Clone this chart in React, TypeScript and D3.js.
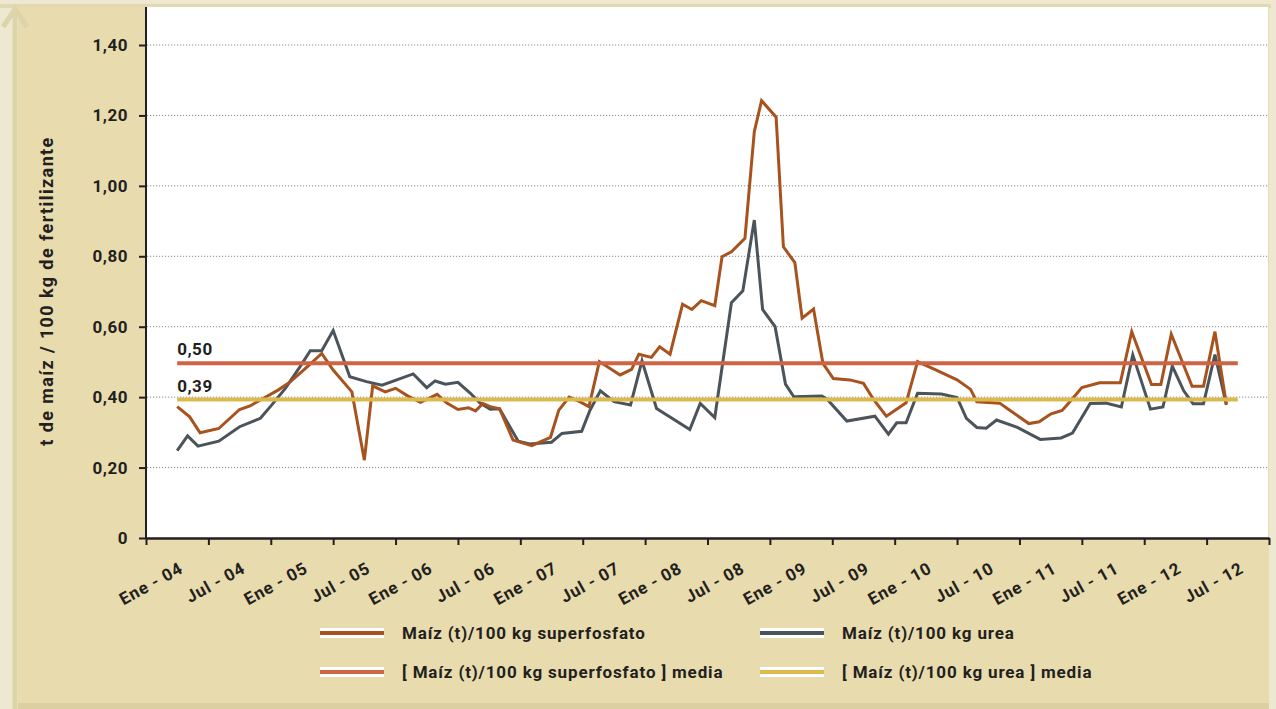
import React, { useEffect, useRef } from "react";
import * as d3 from "d3";

// meses desde Ene-04 y valores (t de maíz / 100 kg de fertilizante)
const mesesSuper = [3.0, 4.2, 5.2, 7.0, 9.0, 10.0, 11.3, 12.7, 13.9, 15.5, 16.9, 18.0, 19.8, 21.0, 21.8, 23.0, 24.0, 25.2, 26.4, 28.0, 28.9, 30.0, 31.0, 31.7, 32.4, 33.1, 34.0, 35.3, 37.1, 38.9, 39.7, 40.7, 41.7, 42.6, 43.6, 45.6, 46.7, 47.4, 48.6, 49.4, 50.4, 51.6, 52.5, 53.4, 54.7, 55.4, 56.3, 57.6, 58.5, 59.2, 60.6, 61.3, 62.4, 63.1, 64.2, 65.1, 66.1, 67.7, 69.0, 70.0, 71.2, 73.1, 74.2, 76.0, 78.0, 79.3, 79.9, 82.1, 83.0, 84.9, 85.9, 87.0, 88.1, 89.0, 90.0, 91.7, 93.7, 94.8, 96.7, 97.6, 98.6, 100.6, 101.7, 102.8, 103.9];
const valSuper = [0.373, 0.344, 0.299, 0.311, 0.365, 0.375, 0.397, 0.42, 0.444, 0.486, 0.524, 0.477, 0.415, 0.221, 0.432, 0.415, 0.425, 0.403, 0.385, 0.408, 0.384, 0.365, 0.37, 0.361, 0.382, 0.373, 0.367, 0.278, 0.262, 0.286, 0.363, 0.4, 0.387, 0.373, 0.501, 0.463, 0.479, 0.522, 0.513, 0.543, 0.522, 0.664, 0.649, 0.674, 0.66, 0.799, 0.813, 0.851, 1.154, 1.242, 1.195, 0.827, 0.782, 0.624, 0.65, 0.496, 0.453, 0.449, 0.439, 0.392, 0.346, 0.384, 0.501, 0.477, 0.449, 0.422, 0.387, 0.383, 0.364, 0.325, 0.33, 0.352, 0.362, 0.392, 0.427, 0.441, 0.441, 0.586, 0.436, 0.436, 0.579, 0.431, 0.431, 0.586, 0.38];

const mesesUrea = [3.0, 4.0, 5.0, 7.0, 9.0, 11.0, 12.1, 13.4, 14.8, 15.8, 16.9, 18.0, 19.6, 21.2, 22.7, 25.7, 27.0, 27.8, 28.8, 30.0, 31.2, 32.1, 33.1, 34.0, 34.8, 35.8, 36.9, 39.0, 40.0, 41.9, 42.7, 43.7, 45.0, 46.6, 47.7, 49.1, 52.3, 53.3, 54.7, 56.3, 57.4, 58.5, 59.3, 60.5, 61.5, 62.3, 65.0, 65.5, 67.4, 70.1, 71.4, 72.2, 73.1, 74.2, 76.5, 78.0, 78.9, 79.9, 80.8, 81.8, 83.8, 86.0, 88.0, 89.1, 90.8, 92.3, 93.8, 94.9, 96.6, 97.8, 98.7, 99.8, 100.7, 101.7, 102.8, 103.9];
const valUrea = [0.248, 0.29, 0.261, 0.275, 0.316, 0.34, 0.378, 0.425, 0.486, 0.532, 0.532, 0.589, 0.458, 0.444, 0.434, 0.466, 0.427, 0.446, 0.437, 0.442, 0.411, 0.384, 0.366, 0.367, 0.326, 0.275, 0.267, 0.272, 0.297, 0.303, 0.363, 0.418, 0.387, 0.378, 0.503, 0.368, 0.308, 0.382, 0.342, 0.668, 0.702, 0.903, 0.649, 0.6, 0.437, 0.401, 0.403, 0.394, 0.332, 0.346, 0.295, 0.327, 0.327, 0.411, 0.409, 0.399, 0.34, 0.314, 0.312, 0.335, 0.314, 0.28, 0.284, 0.298, 0.382, 0.383, 0.372, 0.52, 0.366, 0.372, 0.488, 0.418, 0.381, 0.381, 0.521, 0.378];

const mediaSuper = 0.496;
const mediaUrea = 0.393;
const mediaDesde = 3;
const mediaHasta = 105;

const etiquetasX = ["Ene - 04", "Jul - 04", "Ene - 05", "Jul - 05", "Ene - 06", "Jul - 06", "Ene - 07", "Jul - 07", "Ene - 08", "Jul - 08", "Ene - 09", "Jul - 09", "Ene - 10", "Jul - 10", "Ene - 11", "Jul - 11", "Ene - 12", "Jul - 12"];
const ticksY = [0, 0.2, 0.4, 0.6, 0.8, 1.0, 1.2, 1.4];

const leyenda = [
  { nombre: "Maíz (t)/100 kg superfosfato", color: "#a8521e", col: 0, fila: 0 },
  { nombre: "Maíz (t)/100 kg urea", color: "#4b545a", col: 1, fila: 0 },
  { nombre: "[ Maíz (t)/100 kg superfosfato ] media", color: "#cf6445", col: 0, fila: 1 },
  { nombre: "[ Maíz (t)/100 kg urea ] media", color: "#dbb94f", col: 1, fila: 1 },
];

const FONT = "Roboto, 'Noto Sans', sans-serif";
const TXT = "#231f20";

export default function App() {
  const svgRef = useRef<SVGSVGElement>(null);

  useEffect(() => {
    const svg = d3.select(svgRef.current);
    svg.selectAll("*").remove();

    const W = 1276, H = 709;
    const x = d3.scaleLinear().domain([0, 108]).range([146, 1269]);
    const y = d3.scaleLinear().domain([0, 1.4]).range([538, 45]);

    // fondo
    svg.append("rect").attr("width", W).attr("height", H).attr("fill", "#efe8d1");
    svg.append("rect").attr("x", 0).attr("y", 4).attr("width", 1271).attr("height", 4).attr("fill", "#e2d8b2");
    svg.append("rect").attr("x", 18).attr("y", 7).attr("width", 1251).attr("height", 696).attr("fill", "#e8dbad");
    svg.append("rect").attr("x", 18).attr("y", 703).attr("width", 1251).attr("height", 6).attr("fill", "#dcd0a2");
    // flecha decorativa
    svg.append("path")
      .attr("d", "M15,709 L15,9 M3,27 L15,9 L27,27")
      .attr("fill", "none").attr("stroke", "#ddd4a9").attr("stroke-width", 5);

    // area de trazado
    svg.append("rect").attr("x", 147).attr("y", 7).attr("width", 1121).attr("height", 531).attr("fill", "#fff");

    // rejilla
    svg.append("g").selectAll("line")
      .data(ticksY.filter(d => d > 0))
      .join("line")
      .attr("x1", 147).attr("x2", 1268)
      .attr("y1", d => y(d)).attr("y2", d => y(d))
      .attr("stroke", "#8a8a8a").attr("stroke-width", 1)
      .attr("stroke-dasharray", "1.2,1.8");

    // eje Y
    const yAxis = d3.axisLeft(y)
      .tickValues(ticksY)
      .tickSize(7)
      .tickPadding(11)
      .tickFormat(d => (+d === 0 ? "0" : d3.format(".2f")(+d).replace(".", ",")));
    svg.append("g")
      .attr("transform", "translate(146,0)")
      .call(yAxis)
      .call(g => g.select(".domain").remove())
      .call(g => g.selectAll(".tick line").attr("stroke", TXT).attr("stroke-width", 2))
      .call(g => g.selectAll(".tick text")
        .attr("fill", TXT).attr("font-family", FONT).attr("font-size", 17).attr("font-weight", 700)
        .attr("letter-spacing", 0.5));
    svg.append("line")
      .attr("x1", 146).attr("x2", 146).attr("y1", 7).attr("y2", y(0))
      .attr("stroke", TXT).attr("stroke-width", 2);

    // eje X
    const xAxis = d3.axisBottom(x)
      .tickValues(d3.range(0, 109, 6))
      .tickSize(7)
      .tickSizeOuter(0)
      .tickFormat(() => "");
    svg.append("g")
      .attr("transform", `translate(0,${y(0)})`)
      .call(xAxis)
      .call(g => g.select(".domain").attr("stroke", TXT).attr("stroke-width", 2.5))
      .call(g => g.selectAll(".tick line").attr("stroke", TXT).attr("stroke-width", 2));

    svg.append("g").selectAll("text")
      .data(etiquetasX)
      .join("text")
      .attr("transform", (d, i) => `translate(${x(i * 6 + 3) + 7},${y(0) + 34}) rotate(-29)`)
      .attr("text-anchor", "end")
      .attr("fill", TXT).attr("font-family", FONT).attr("font-size", 17).attr("font-weight", 700)
      .attr("letter-spacing", 0.8)
      .text(d => d);

    // titulo eje Y
    svg.append("text")
      .attr("transform", "translate(53,291) rotate(-90)")
      .attr("text-anchor", "middle")
      .attr("fill", TXT).attr("font-family", FONT).attr("font-size", 18).attr("font-weight", 700)
      .attr("letter-spacing", 1.4)
      .text("t de maíz / 100 kg de fertilizante");

    // series
    const linea = d3.line<[number, number]>().x(d => x(d[0])).y(d => y(d[1]));
    const superData = mesesSuper.map((m, i) => [m, valSuper[i]] as [number, number]);
    const ureaData = mesesUrea.map((m, i) => [m, valUrea[i]] as [number, number]);

    svg.append("path").attr("d", linea(ureaData))
      .attr("fill", "none").attr("stroke", "#4b545a").attr("stroke-width", 3);
    svg.append("path").attr("d", linea(superData))
      .attr("fill", "none").attr("stroke", "#a8521e").attr("stroke-width", 3);

    // medias
    [[mediaSuper, "#cf6445"], [mediaUrea, "#dbb94f"]].forEach(([v, c]) => {
      svg.append("line")
        .attr("x1", x(mediaDesde)).attr("x2", x(mediaHasta))
        .attr("y1", y(v as number)).attr("y2", y(v as number))
        .attr("stroke", c as string).attr("stroke-width", 4);
      svg.append("text")
        .attr("x", x(mediaDesde)).attr("y", y(v as number) - 8)
        .attr("fill", TXT).attr("font-family", FONT).attr("font-size", 17).attr("font-weight", 700)
        .attr("letter-spacing", 0.5)
        .text(d3.format(".2f")(v as number).replace(".", ","));
    });

    // leyenda
    const colX = [320, 760];
    const filaY = [633, 672];
    const items = svg.append("g").selectAll("g")
      .data(leyenda)
      .join("g")
      .attr("transform", d => `translate(${colX[d.col]},${filaY[d.fila]})`);
    items.append("rect").attr("x", 0).attr("y", -5).attr("width", 64).attr("height", 10).attr("fill", "#fff");
    items.append("rect").attr("x", 0).attr("y", -2).attr("width", 64).attr("height", 4).attr("fill", d => d.color);
    items.append("text")
      .attr("x", 82).attr("y", 0).attr("dy", "0.35em")
      .attr("fill", TXT).attr("font-family", FONT).attr("font-size", 17).attr("font-weight", 700)
      .attr("letter-spacing", 0.85)
      .text(d => d.nombre);
  }, []);

  return (
    <svg ref={svgRef} width={1276} height={709}
      style={{ position: "absolute", left: 0, top: 0, display: "block" }} />
  );
}
